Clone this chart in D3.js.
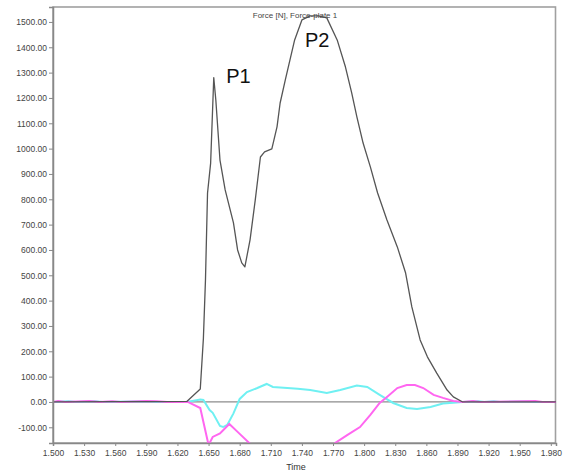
<!DOCTYPE html>
<html>
<head>
<meta charset="utf-8">
<script src="https://cdn.jsdelivr.net/npm/d3@7"></script>
<style>
  body { margin: 0; background: #fff; }
  svg { display: block; font-family: "Liberation Sans", Arial, sans-serif; }
</style>
</head>
<body>
<svg width="564" height="472"></svg>
<script>
// force-plate trace, values [time s, force N]
const fzPoints = [
  [1.500, 0], [1.560, 1], [1.600, 1], [1.629, 2], [1.642, 51], [1.645, 250],
  [1.647, 480], [1.649, 825], [1.652, 943], [1.655, 1280], [1.657, 1192],
  [1.661, 955], [1.666, 837], [1.674, 707], [1.678, 600], [1.682, 549],
  [1.685, 533], [1.690, 640], [1.695, 797], [1.700, 967], [1.704, 987],
  [1.711, 999], [1.716, 1086], [1.719, 1180], [1.724, 1271], [1.733, 1429],
  [1.740, 1508], [1.748, 1524], [1.756, 1524], [1.764, 1516], [1.774, 1429],
  [1.782, 1322], [1.788, 1220], [1.793, 1125], [1.799, 1022], [1.806, 928],
  [1.813, 825], [1.822, 718], [1.832, 612], [1.840, 509], [1.846, 375],
  [1.854, 245], [1.861, 178], [1.870, 114], [1.880, 47], [1.886, 20],
  [1.895, 0], [1.985, 0]
];

const cyanPoints = [
  [1.500, 0], [1.515, 3], [1.522, 0], [1.540, 3], [1.548, 0], [1.592, 3],
  [1.600, 0], [1.629, 0], [1.642, 10], [1.645, 8], [1.651, -32], [1.654, -43],
  [1.661, -95], [1.664, -99], [1.668, -91], [1.674, -45], [1.680, 12],
  [1.687, 39], [1.697, 55], [1.706, 71], [1.712, 59], [1.726, 55], [1.736, 52],
  [1.748, 47], [1.764, 35], [1.777, 47], [1.793, 65], [1.803, 59], [1.815, 28],
  [1.828, -4], [1.841, -24], [1.851, -28], [1.864, -20], [1.876, -6],
  [1.886, -3], [1.895, 0], [1.910, 3], [1.916, 0], [1.925, 3], [1.931, 0],
  [1.958, 3], [1.964, 0], [1.985, 0]
];

const magentaPoints = [
  [1.500, 0], [1.505, 4], [1.512, 0], [1.535, 4], [1.545, 0], [1.557, 3],
  [1.565, 0], [1.590, 4], [1.600, 3], [1.610, 0], [1.630, 0], [1.642, -24],
  [1.650, -170], [1.654, -138], [1.661, -124], [1.670, -87], [1.678, -118],
  [1.690, -165], [1.709, -240], [1.733, -280], [1.758, -220], [1.772, -162],
  [1.784, -130], [1.796, -99], [1.806, -51], [1.815, -4], [1.822, 20],
  [1.832, 55], [1.841, 67], [1.849, 67], [1.857, 55], [1.867, 28],
  [1.876, 16], [1.886, 4], [1.895, 0], [1.905, 4], [1.912, 0], [1.965, 4],
  [1.972, 0], [1.985, 0]
];

const xTicks = [1.500, 1.530, 1.560, 1.590, 1.620, 1.650, 1.680, 1.710, 1.740,
  1.770, 1.800, 1.830, 1.860, 1.890, 1.920, 1.950, 1.980];
const yTicks = [-100, 0, 100, 200, 300, 400, 500, 600, 700, 800, 900, 1000,
  1100, 1200, 1300, 1400, 1500];

const peakLabels = [
  { text: 'P1', t: 1.667, v: 1259 },
  { text: 'P2', t: 1.743, v: 1401 }
];

const svg = d3.select('svg');
const margin = {top: 7, right: 8, bottom: 29, left: 53};
const plotRight = +svg.attr('width') - margin.right,
      plotBottom = +svg.attr('height') - margin.bottom;

const x = d3.scaleLinear().domain([1.5, 1.985]).range([margin.left, plotRight]);
const y = d3.scaleLinear().domain([-162, 1559]).range([plotBottom, margin.top]);

svg.append('defs').append('clipPath').attr('id', 'plot')
  .append('rect')
    .attr('x', margin.left).attr('y', margin.top)
    .attr('width', plotRight - margin.left)
    .attr('height', plotBottom - margin.top);

// frame
svg.append('rect')
  .attr('x', margin.left).attr('y', margin.top)
  .attr('width', plotRight - margin.left - 0.5)
  .attr('height', plotBottom - margin.top)
  .attr('fill', 'none')
  .attr('stroke', '#a0a0a0')
  .attr('stroke-width', 1.6);

// zero line
svg.append('line')
  .attr('x1', margin.left).attr('x2', plotRight)
  .attr('y1', y(0)).attr('y2', y(0))
  .attr('stroke', '#8c8c8c')
  .attr('stroke-width', 1.2);

const line = d3.line()
  .x((d) => { return x(d[0]); })
  .y((d) => { return y(d[1]); });

const g = svg.append('g').attr('clip-path', 'url(#plot)');

g.append('path').datum(cyanPoints)
  .attr('d', line).attr('fill', 'none')
  .attr('stroke', '#6ff0f2').attr('stroke-width', 2);

g.append('path').datum(magentaPoints)
  .attr('d', line).attr('fill', 'none')
  .attr('stroke', '#ff66f0').attr('stroke-width', 2);

g.append('path').datum(fzPoints)
  .attr('d', line).attr('fill', 'none')
  .attr('stroke', '#555').attr('stroke-width', 1.3)
  .attr('stroke-linejoin', 'round');

// axes
const yAxis = svg.append('g')
  .attr('transform', 'translate(' + margin.left + ',0)')
  .call(d3.axisLeft(y).tickValues(yTicks).tickSize(4).tickPadding(2)
    .tickFormat((d) => d.toFixed(2)));

const xAxis = svg.append('g')
  .attr('transform', 'translate(0,' + plotBottom + ')')
  .call(d3.axisBottom(x).tickValues(xTicks).tickSize(3).tickPadding(4)
    .tickFormat(d3.format('.3f')));

[yAxis, xAxis].forEach((a) => {
  a.select('.domain').attr('stroke', '#888').attr('stroke-width', 1.5);
  a.selectAll('.tick line').attr('stroke', '#888');
  a.selectAll('.tick text')
    .attr('fill', '#444')
    .style('font-size', '8.5px');
});

svg.append('text')
  .attr('x', 296).attr('y', 470)
  .attr('text-anchor', 'middle')
  .attr('fill', '#333')
  .style('font-size', '9px')
  .text('Time');

svg.append('text')
  .attr('x', 295).attr('y', 18)
  .attr('text-anchor', 'middle')
  .attr('fill', '#444')
  .style('font-size', '8px')
  .text('Force [N], Force-plate 1');

svg.selectAll('.peak')
  .data(peakLabels)
  .enter().append('text')
    .attr('class', 'peak')
    .attr('x', (d) => x(d.t))
    .attr('y', (d) => y(d.v))
    .attr('fill', '#111')
    .style('font-size', '20px')
    .text((d) => d.text);
</script>
</body>
</html>
